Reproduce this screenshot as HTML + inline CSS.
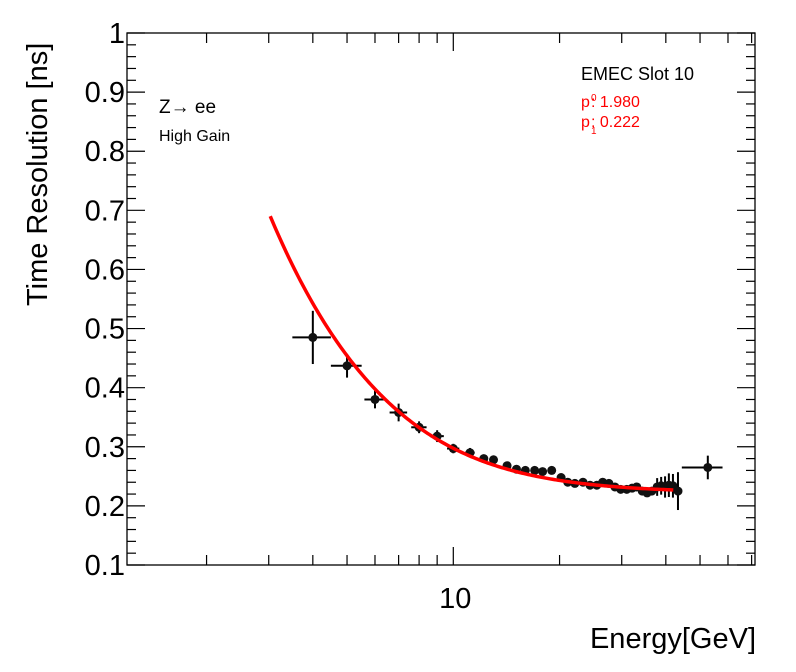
<!DOCTYPE html>
<html><head><meta charset="utf-8"><style>
body{margin:0;background:#fff;}
svg{display:block;font-family:"Liberation Sans",sans-serif;}
</style></head><body>
<svg id="c" width="796" height="672">
<g id="g"></g>
<text x="756" y="648" font-size="29" text-anchor="end">Energy[GeV]</text>
<text transform="translate(47,306) rotate(-90)" font-size="29" text-anchor="start" x="0" y="0">Time Resolution [ns]</text>
<text x="159" y="113" font-size="19">Z→ ee</text>
<text x="159" y="141" font-size="16">High Gain</text>
<text x="581" y="80" font-size="18">EMEC Slot 10</text>
<g fill="#ff0000" font-size="16">
<text x="581" y="107">p</text><text x="591" y="101" font-size="10">0</text><text x="591" y="107">: 1.980</text>
<text x="581" y="127">p</text><text x="591" y="134" font-size="10">1</text><text x="591" y="127">: 0.222</text>
</g>
</svg>
<script>
const energies=[4,5,6,7,8,9,10,11.15,12.2,13.0,14.2,15.1,16.0,17.0,17.9,19.0,20.2,21.1,22.1,23.3,24.4,25.5,26.5,27.6,28.7,29.8,31.0,32.1,33.1,34.3,35.4,36.5,37.8,38.8,39.8,40.8,41.9,43.3,52.6];
const resolutions=[0.485,0.437,0.38,0.358,0.333,0.318,0.297,0.29,0.28,0.278,0.268,0.262,0.26,0.26,0.258,0.26,0.248,0.24,0.238,0.24,0.235,0.235,0.24,0.238,0.232,0.228,0.228,0.23,0.232,0.225,0.222,0.225,0.232,0.234,0.232,0.235,0.234,0.225,0.265];
const yErrors=[0.045,0.02,0.015,0.015,0.01,0.01,0.008,0.008,0.007,0.007,0.007,0.006,0.006,0.006,0.006,0.006,0.006,0.006,0.006,0.006,0.006,0.006,0.006,0.006,0.006,0.006,0.006,0.006,0.006,0.006,0.006,0.006,0.015,0.015,0.018,0.02,0.02,0.032,0.02];
const xLow=[3.5,4.5,5.6,6.6,7.6,8.6,9.6,10.8,11.9,12.7,13.9,14.8,15.7,16.7,17.6,18.7,19.8,20.7,21.7,22.9,24.0,25.1,26.1,27.2,28.3,29.4,30.6,31.6,32.6,33.8,34.9,36.0,37.3,38.3,39.3,40.3,41.4,42.8,44.4];
const xHigh=[4.5,5.5,6.4,7.4,8.4,9.4,10.4,11.5,12.5,13.3,14.5,15.4,16.3,17.3,18.2,19.3,20.6,21.5,22.5,23.7,24.8,25.9,26.9,28.0,29.1,30.2,31.4,32.6,33.6,34.8,35.9,37.0,38.3,39.3,40.3,41.3,42.4,43.8,57.9];
const fitP0=1.980, fitP1=0.222, fitMin=3.03, fitMax=42;
const yTickLabels=["0.1","0.2","0.3","0.4","0.5","0.6","0.7","0.8","0.9","1"];
const xMajorTicks=[10];
const xMinorTicks=[2,3,4,5,6,7,8,9,20,30,40,50,60,70];

const L=127,R=755,T=33,B=565;
const D=353, X10=453.3;
const X=e=>X10+(Math.log10(e)-1)*D;
const Y=v=>T+(1-v)/0.9*(B-T);
const g=document.getElementById('g');
const NS='http://www.w3.org/2000/svg';
function mk(t,a,p){const e=document.createElementNS(NS,t);for(const k in a)e.setAttribute(k,a[k]);(p||g).appendChild(e);return e;}
const frame=mk('rect',{x:L,y:T,width:R-L,height:B-T,fill:'none',stroke:'#000','stroke-width':1.3});


for(let i=0;i<=45;i++){const v=0.1+i*0.02;if(v>1.0001)break;const y=Y(v);const major=(i%5===0);const len=major?18:9;
 mk('line',{x1:L,x2:L+len,y1:y,y2:y,stroke:'#000','stroke-width':1.2});
 mk('line',{x1:R,x2:R-len,y1:y,y2:y,stroke:'#000','stroke-width':1.2});}
yTickLabels.forEach(s=>{const t=mk('text',{x:L-2,y:Y(parseFloat(s))+10,'font-size':29,'text-anchor':'end'});t.textContent=s;
 
 });
xMinorTicks.forEach(e=>{const x=X(e);mk('line',{x1:x,x2:x,y1:B,y2:B-10,stroke:'#000','stroke-width':1.2});mk('line',{x1:x,x2:x,y1:T,y2:T+10,stroke:'#000','stroke-width':1.2});});
xMajorTicks.forEach(e=>{const x=X(e);mk('line',{x1:x,x2:x,y1:B,y2:B-18,stroke:'#000','stroke-width':1.2});mk('line',{x1:x,x2:x,y1:T,y2:T+18,stroke:'#000','stroke-width':1.2});
 const t=mk('text',{x:x+2,y:608,'font-size':29,'text-anchor':'middle'});t.textContent=String(e);
 
 });
energies.forEach((e,i)=>{const x=X(e),y=Y(resolutions[i]);
 const grp=mk('g',{});
 
 
 mk('line',{x1:X(xLow[i]),x2:X(xHigh[i]),y1:y,y2:y,stroke:'#000','stroke-width':2},grp);
 mk('line',{x1:x,x2:x,y1:Y(resolutions[i]+yErrors[i]),y2:Y(resolutions[i]-yErrors[i]),stroke:'#000','stroke-width':2},grp);
 mk('circle',{cx:x,cy:y,r:4.5,fill:'#111'},grp);});
let d='';for(let k=0;k<=200;k++){const e=fitMin*Math.pow(fitMax/fitMin,k/200);const v=Math.sqrt((fitP0/e)**2+fitP1**2);d+=(k?'L':'M')+X(e).toFixed(2)+','+Y(v).toFixed(2);}
const fit=mk('path',{d:d,fill:'none',stroke:'#ff0000','stroke-width':3.5});


</script>
</body></html>
